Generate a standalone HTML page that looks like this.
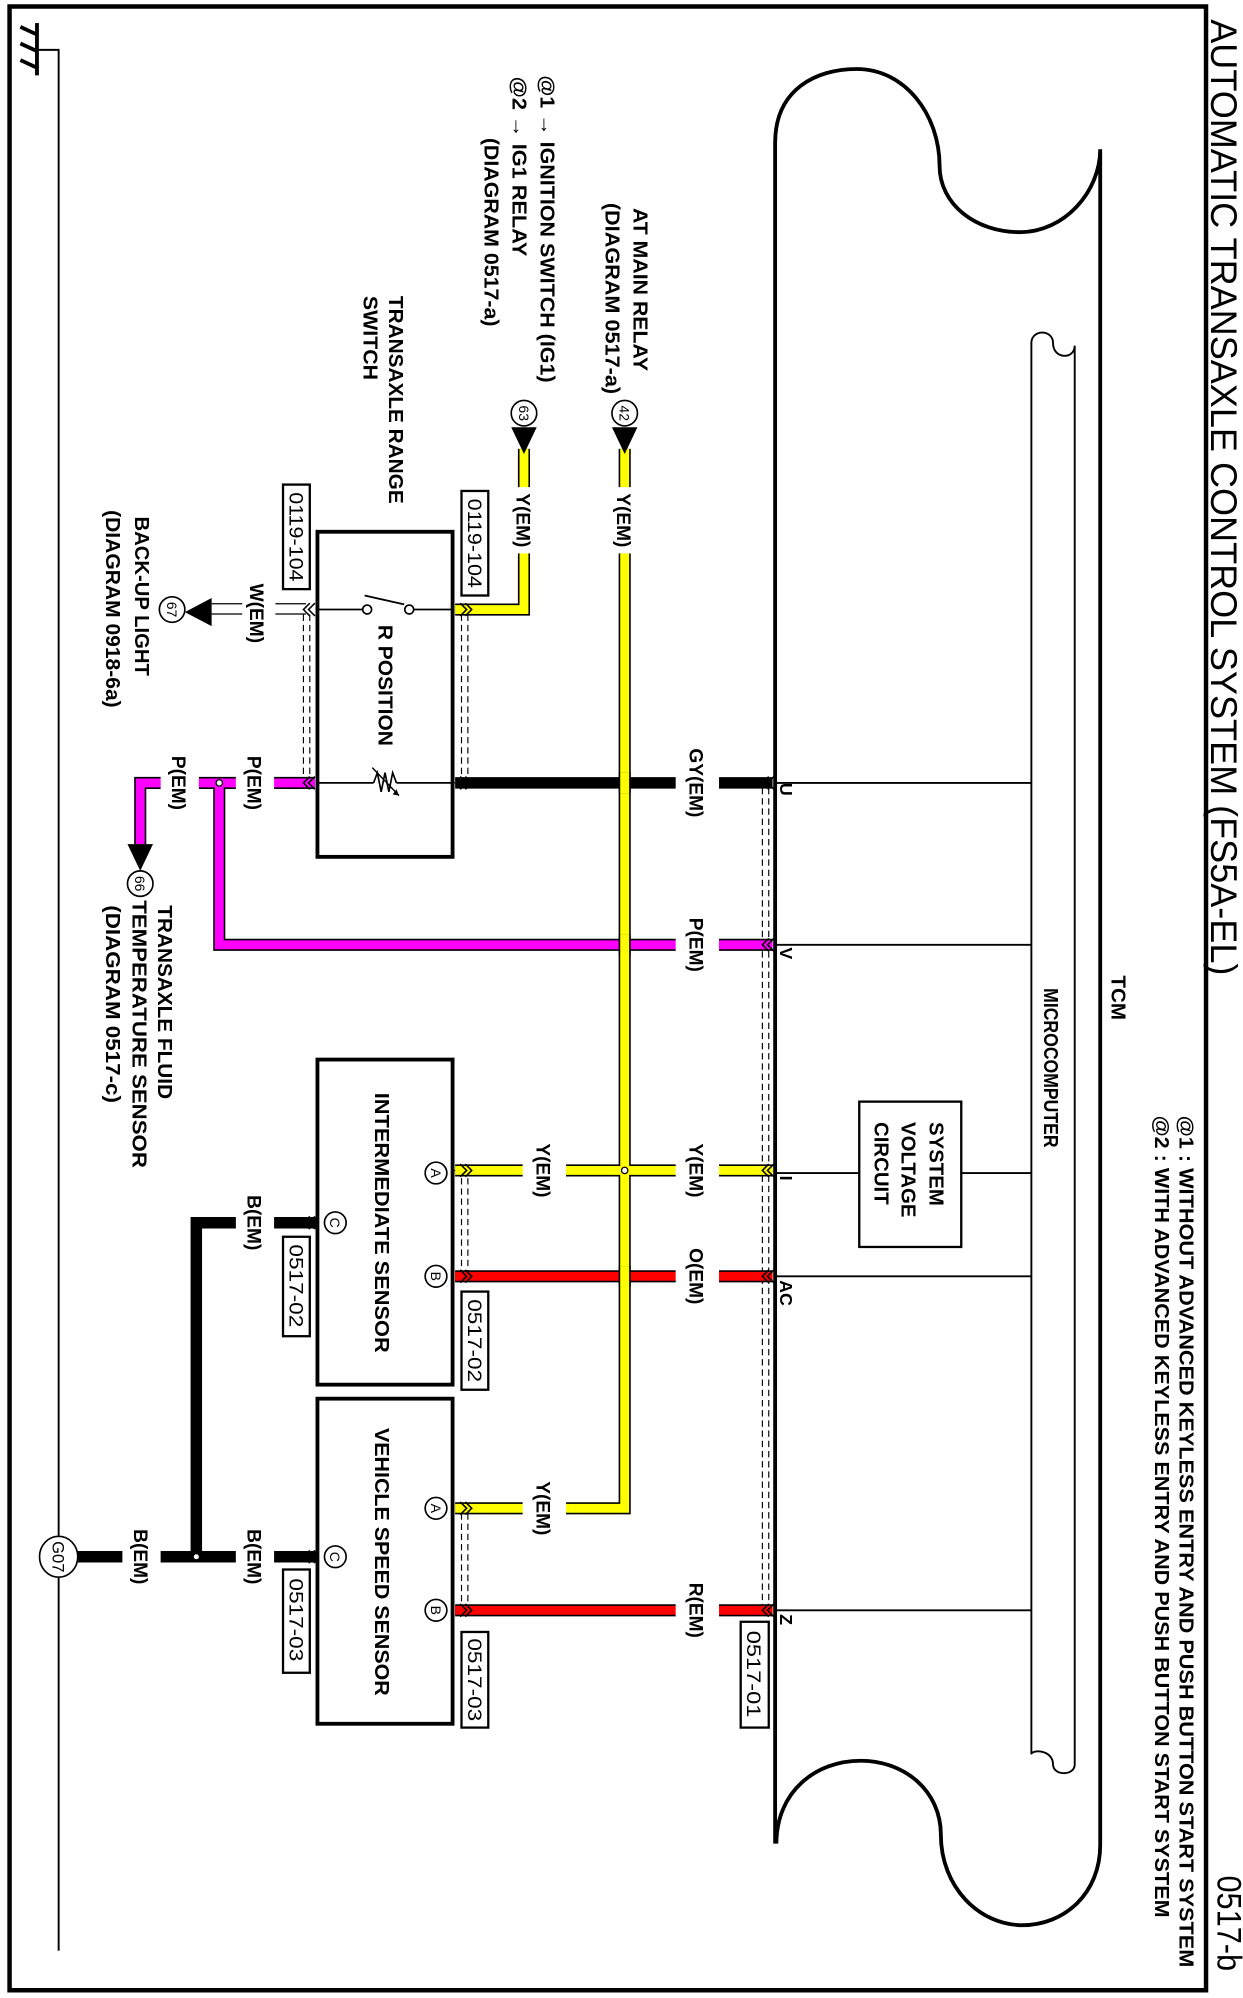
<!DOCTYPE html>
<html><head><meta charset="utf-8"><style>
html,body{margin:0;padding:0;background:#fff}
svg{display:block}
text{font-family:"Liberation Sans",sans-serif;fill:#000}
.b{font-weight:bold}
</style></head><body>
<svg width="1243" height="1998" viewBox="0 0 975 1567" xmlns="http://www.w3.org/2000/svg">
<rect x="0" y="0" width="975" height="1567" fill="#fff"/>
<!-- border -->
<path d="M946 5 H7.5 V1561 H946 Z" fill="none" stroke="#000" stroke-width="3.5"/>

<!-- title & notes -->
<text transform="translate(950,15) rotate(90)" font-size="29" textLength="750" lengthAdjust="spacingAndGlyphs">AUTOMATIC TRANSAXLE CONTROL SYSTEM (FS5A-EL)</text>
<text transform="translate(955,1471) rotate(90)" font-size="27" textLength="75" lengthAdjust="spacingAndGlyphs">0517-b</text>
<text class="b" transform="translate(925,875) rotate(90)" font-size="16" textLength="668" lengthAdjust="spacingAndGlyphs">@1 : WITHOUT ADVANCED KEYLESS ENTRY AND PUSH BUTTON START SYSTEM</text>
<text class="b" transform="translate(906,875) rotate(90)" font-size="16" textLength="629" lengthAdjust="spacingAndGlyphs">@2 : WITH ADVANCED KEYLESS ENTRY AND PUSH BUTTON START SYSTEM</text>
<text class="b" transform="translate(872,765) rotate(90)" font-size="16" textLength="35" lengthAdjust="spacingAndGlyphs">TCM</text>
<text class="b" transform="translate(819,775) rotate(90)" font-size="16" textLength="125" lengthAdjust="spacingAndGlyphs">MICROCOMPUTER</text>

<!-- ground -->
<line x1="29" y1="18" x2="29" y2="59" stroke="#000" stroke-width="3"/>
<line x1="16" y1="21" x2="29" y2="27" stroke="#000" stroke-width="3"/>
<line x1="16" y1="34" x2="29" y2="40" stroke="#000" stroke-width="3"/>
<line x1="16" y1="47" x2="29" y2="53" stroke="#000" stroke-width="3"/>
<path d="M29 39 H46 V1530" fill="none" stroke="#000" stroke-width="1.5"/>

<!-- TCM outline -->
<path d="M608 1446 V112 C608 70 640 54 672 54 C710 54 737 90 737 130 C737 160 765 182 800 182 C835 182 863 150 863 117 V1447 C863 1485 835 1510 802 1510 C768 1510 738 1480 738 1439 C738 1405 710 1381 675 1381 C640 1381 609 1405 609 1446" fill="none" stroke="#000" stroke-width="3"/>
<!-- microcomputer -->
<path d="M809 1376 V269 C809 258 826 258 826 269 C826 282 843 282 843 271 V1384 C843 1393 826 1393 826 1384 C826 1372 809 1372 809 1376" fill="none" stroke="#000" stroke-width="1.5"/>

<!-- TCM internal pin lines -->
<g stroke="#000" stroke-width="1.5">
<line x1="608" y1="614" x2="809" y2="614"/>
<line x1="608" y1="741" x2="809" y2="741"/>
<line x1="608" y1="920" x2="674" y2="920"/>
<line x1="754" y1="920" x2="809" y2="920"/>
<line x1="608" y1="1001" x2="809" y2="1001"/>
<line x1="608" y1="1263" x2="809" y2="1263"/>
</g>
<rect x="674" y="864" width="80" height="114" fill="none" stroke="#000" stroke-width="1.8"/>
<text class="b" transform="translate(729,880) rotate(90)" font-size="16">SYSTEM</text>
<text class="b" transform="translate(707,880) rotate(90)" font-size="16">VOLTAGE</text>
<text class="b" transform="translate(686,880) rotate(90)" font-size="16">CIRCUIT</text>
<g class="b" font-size="14">
<text class="b" transform="translate(612,614) rotate(90)" font-size="14">U</text>
<text class="b" transform="translate(612,743) rotate(90)" font-size="14">V</text>
<text class="b" transform="translate(612,922) rotate(90)" font-size="14">I</text>
<text class="b" transform="translate(612,1004) rotate(90)" font-size="14">AC</text>
<text class="b" transform="translate(612,1266) rotate(90)" font-size="14">Z</text>
</g>

<!-- dashed shield lines -->
<g stroke="#000" stroke-width="0.9" stroke-dasharray="5,3" fill="none">
<line x1="598" y1="618" x2="598" y2="1260"/><line x1="603" y1="618" x2="603" y2="1260"/>
<line x1="238" y1="482" x2="238" y2="610"/><line x1="243" y1="482" x2="243" y2="610"/>
<line x1="362" y1="482" x2="362" y2="610"/><line x1="367" y1="482" x2="367" y2="610"/>
<line x1="362" y1="924" x2="362" y2="997"/><line x1="367" y1="924" x2="367" y2="997"/>
<line x1="362" y1="1187" x2="362" y2="1259"/><line x1="367" y1="1187" x2="367" y2="1259"/>
</g>

<!-- wires: outline then color -->
<g fill="none" stroke="#000" stroke-width="9.5" stroke-linejoin="miter">
<path d="M490 352 V1183 H357"/>
<path d="M411 352 V478 H357"/>
<path d="M357 918 H606"/>
<path d="M357 1001 H606"/>
<path d="M357 1263 H606"/>
<path d="M247 614 H110 V662"/>
<path d="M172 614 V741 H606"/>
</g>
<g fill="none" stroke-width="7" stroke-linejoin="miter">
<path d="M490 352 V1183 H357" stroke="#ffff00"/>
<path d="M411 352 V478 H357" stroke="#ffff00"/>
<path d="M357 918 H606" stroke="#ffff00"/>
<path d="M357 1001 H606" stroke="#ff0000"/>
<path d="M357 1263 H606" stroke="#ff0000"/>
<path d="M247 614 H110 V662" stroke="#ff00ff"/>
<path d="M172 614 V741 H606" stroke="#ff00ff"/>
</g>
<!-- yellow vertical over crossings -->
<line x1="490" y1="606" x2="490" y2="622" stroke="#000" stroke-width="9.5"/>
<line x1="490" y1="733" x2="490" y2="749" stroke="#000" stroke-width="9.5"/>
<line x1="490" y1="606" x2="490" y2="622" stroke="#ffff00" stroke-width="7"/>
<line x1="490" y1="733" x2="490" y2="749" stroke="#ffff00" stroke-width="7"/>
<line x1="490" y1="993" x2="490" y2="1009" stroke="#000" stroke-width="9.5"/>
<line x1="490" y1="993" x2="490" y2="1009" stroke="#ffff00" stroke-width="7"/>
<!-- black wires -->
<path d="M357 614 H486 M494 614 H606" stroke="#000" stroke-width="9" fill="none"/>
<path d="M249 959 H154 V1221" stroke="#000" stroke-width="9" fill="none"/>
<path d="M249 1221 H58" stroke="#000" stroke-width="9" fill="none"/>
<!-- W wire -->
<line x1="166" y1="473.5" x2="240" y2="473.5" stroke="#000" stroke-width="1"/>
<line x1="166" y1="481.5" x2="240" y2="481.5" stroke="#000" stroke-width="1"/>

<!-- junction dots -->
<circle cx="490" cy="918" r="2.5" fill="#fff" stroke="#000" stroke-width="1"/>
<circle cx="172" cy="614" r="2.5" fill="#fff" stroke="#000" stroke-width="1"/>
<circle cx="154" cy="1221" r="2.5" fill="#fff" stroke="#000" stroke-width="1"/>

<!-- label gaps (white) -->
<g fill="#fff">
<rect x="480" y="382" width="20" height="52"/>
<rect x="401" y="382" width="20" height="52"/>
<rect x="530" y="582" width="34" height="64"/>
<rect x="530" y="714" width="34" height="54"/>
<rect x="530" y="891" width="34" height="54"/>
<rect x="410" y="891" width="34" height="54"/>
<rect x="530" y="974" width="34" height="54"/>
<rect x="530" y="1236" width="34" height="54"/>
<rect x="410" y="1156" width="34" height="54"/>
<rect x="185" y="587" width="30" height="54"/>
<rect x="126" y="587" width="30" height="54"/>
<rect x="185" y="932" width="30" height="54"/>
<rect x="185" y="1194" width="30" height="54"/>
<rect x="96" y="1194" width="30" height="54"/>
<rect x="190" y="455" width="26" height="52"/>
</g>
<g class="b" font-size="15" text-anchor="middle">
<text class="b" transform="translate(484,408) rotate(90)" text-anchor="middle" font-size="15">Y(EM)</text>
<text class="b" transform="translate(405,408) rotate(90)" text-anchor="middle" font-size="15">Y(EM)</text>
<text class="b" transform="translate(541,614) rotate(90)" text-anchor="middle" font-size="15">GY(EM)</text>
<text class="b" transform="translate(541,741) rotate(90)" text-anchor="middle" font-size="15">P(EM)</text>
<text class="b" transform="translate(541,918) rotate(90)" text-anchor="middle" font-size="15">Y(EM)</text>
<text class="b" transform="translate(421,918) rotate(90)" text-anchor="middle" font-size="15">Y(EM)</text>
<text class="b" transform="translate(541,1001) rotate(90)" text-anchor="middle" font-size="15">O(EM)</text>
<text class="b" transform="translate(541,1263) rotate(90)" text-anchor="middle" font-size="15">R(EM)</text>
<text class="b" transform="translate(421,1183) rotate(90)" text-anchor="middle" font-size="15">Y(EM)</text>
<text class="b" transform="translate(194,614) rotate(90)" text-anchor="middle" font-size="15">P(EM)</text>
<text class="b" transform="translate(135,614) rotate(90)" text-anchor="middle" font-size="15">P(EM)</text>
<text class="b" transform="translate(194,959) rotate(90)" text-anchor="middle" font-size="15">B(EM)</text>
<text class="b" transform="translate(194,1221) rotate(90)" text-anchor="middle" font-size="15">B(EM)</text>
<text class="b" transform="translate(105,1221) rotate(90)" text-anchor="middle" font-size="15">B(EM)</text>
<text class="b" transform="translate(196,481) rotate(90)" text-anchor="middle" font-size="15">W(EM)</text>
</g>

<!-- connector chevrons -->
<g fill="none" stroke="#000" stroke-width="1.2">
<path d="M603 609 L598 614 L603 619 M607 609 L602 614 L607 619"/>
<path d="M603 736 L598 741 L603 746 M607 736 L602 741 L607 746"/>
<path d="M603 913 L598 918 L603 923 M607 913 L602 918 L607 923"/>
<path d="M603 996 L598 1001 L603 1006 M607 996 L602 1001 L607 1006"/>
<path d="M603 1258 L598 1263 L603 1268 M607 1258 L602 1263 L607 1268"/>
<path d="M361 473 L366 478 L361 483 M365 473 L370 478 L365 483"/>
<path d="M361 609 L366 614 L361 619 M365 609 L370 614 L365 619"/>
<path d="M361 913 L366 918 L361 923 M365 913 L370 918 L365 923"/>
<path d="M361 996 L366 1001 L361 1006 M365 996 L370 1001 L365 1006"/>
<path d="M361 1178 L366 1183 L361 1188 M365 1178 L370 1183 L365 1188"/>
<path d="M361 1258 L366 1263 L361 1268 M365 1258 L370 1263 L365 1268"/>
<path d="M243 473 L238 478 L243 483 M247 473 L242 478 L247 483"/>
<path d="M243 609 L238 614 L243 619 M247 609 L242 614 L247 619"/>
<path d="M243 954 L238 959 L243 964 M247 954 L242 959 L247 964"/>
<path d="M243 1216 L238 1221 L243 1226 M247 1216 L242 1221 L247 1226"/>
</g>

<!-- range switch -->
<rect x="249" y="417" width="106" height="255" fill="#fff" stroke="#000" stroke-width="3"/>
<path d="M249 478 H285 M324 478 H355 M249 614 H293 M311 614 H355" stroke="#000" stroke-width="1.4"/>
<circle cx="288" cy="478" r="3.5" fill="#fff" stroke="#000" stroke-width="1.3"/>
<circle cx="321" cy="478" r="3.5" fill="#fff" stroke="#000" stroke-width="1.3"/>
<line x1="286" y1="467" x2="317" y2="474" stroke="#000" stroke-width="1.4"/>
<path d="M293 614 L296 606 L299 621 L302 606 L305 621 L308 606 L311 614" fill="none" stroke="#000" stroke-width="1.3"/>
<path d="M292 602 L313 624" stroke="#000" stroke-width="1.1"/>
<path d="M313 624 L308 623 L311 619 Z" fill="#000"/>
<text class="b" transform="translate(297,490) rotate(90)" font-size="16" textLength="95" lengthAdjust="spacingAndGlyphs">R POSITION</text>

<!-- sensors -->
<rect x="249" y="831" width="106" height="255" fill="none" stroke="#000" stroke-width="3"/>
<rect x="249" y="1097" width="106" height="255" fill="none" stroke="#000" stroke-width="3"/>
<path d="M355 614 H357 M355 918 H357" stroke="#000"/>
<text class="b" transform="translate(294,857) rotate(90)" font-size="16" textLength="204" lengthAdjust="spacingAndGlyphs">INTERMEDIATE SENSOR</text>
<text class="b" transform="translate(294,1120) rotate(90)" font-size="16" textLength="210" lengthAdjust="spacingAndGlyphs">VEHICLE SPEED SENSOR</text>
<g fill="#fff" stroke="#000" stroke-width="1.3">
<circle cx="342" cy="920" r="8.5"/><circle cx="342" cy="1001" r="8.5"/><circle cx="263" cy="959" r="8.5"/>
<circle cx="342" cy="1183" r="8.5"/><circle cx="342" cy="1263" r="8.5"/><circle cx="263" cy="1221" r="8.5"/>
</g>
<g font-size="11" text-anchor="middle">
<text transform="translate(338,920) rotate(90)" text-anchor="middle" font-size="11">A</text>
<text transform="translate(338,1001) rotate(90)" text-anchor="middle" font-size="11">B</text>
<text transform="translate(259,959) rotate(90)" text-anchor="middle" font-size="11">C</text>
<text transform="translate(338,1183) rotate(90)" text-anchor="middle" font-size="11">A</text>
<text transform="translate(338,1263) rotate(90)" text-anchor="middle" font-size="11">B</text>
<text transform="translate(259,1221) rotate(90)" text-anchor="middle" font-size="11">C</text>
</g>

<!-- connector label boxes -->
<g fill="#fff" stroke="#000" stroke-width="1.8">
<rect x="362" y="385" width="21" height="82"/>
<rect x="222" y="380" width="21" height="82"/>
<rect x="362" y="1013" width="21" height="77"/>
<rect x="222" y="970" width="21" height="78"/>
<rect x="362" y="1280" width="21" height="75"/>
<rect x="222" y="1231" width="21" height="81"/>
<rect x="581" y="1272" width="22" height="83"/>
</g>
<g font-size="15">
<text transform="translate(367,391) rotate(90)" font-size="15" textLength="70" lengthAdjust="spacingAndGlyphs">0119-104</text>
<text transform="translate(227,386) rotate(90)" font-size="15" textLength="70" lengthAdjust="spacingAndGlyphs">0119-104</text>
<text transform="translate(367,1019) rotate(90)" font-size="15" textLength="65" lengthAdjust="spacingAndGlyphs">0517-02</text>
<text transform="translate(227,976) rotate(90)" font-size="15" textLength="65" lengthAdjust="spacingAndGlyphs">0517-02</text>
<text transform="translate(367,1285) rotate(90)" font-size="15" textLength="65" lengthAdjust="spacingAndGlyphs">0517-03</text>
<text transform="translate(227,1238) rotate(90)" font-size="15" textLength="65" lengthAdjust="spacingAndGlyphs">0517-03</text>
<text transform="translate(586,1279) rotate(90)" font-size="15" textLength="68" lengthAdjust="spacingAndGlyphs">0517-01</text>
</g>

<!-- off-page arrows -->
<polygon points="480,335 500,335 490,356" fill="#000"/>
<polygon points="401,335 421,335 411,356" fill="#000"/>
<polygon points="166,469 166,491 145,480" fill="#000"/>
<polygon points="100,662 120,662 110,683" fill="#000"/>
<g fill="#fff" stroke="#000" stroke-width="1.3">
<circle cx="490" cy="324" r="10"/><circle cx="411" cy="324" r="10"/>
<circle cx="135" cy="478" r="10"/><circle cx="110" cy="693" r="10"/>
<ellipse cx="46" cy="1221" rx="15" ry="16"/>
</g>
<g font-size="11">
<text transform="translate(486,324) rotate(90)" text-anchor="middle" font-size="11">42</text>
<text transform="translate(407,324) rotate(90)" text-anchor="middle" font-size="11">63</text>
<text transform="translate(131,478) rotate(90)" text-anchor="middle" font-size="11">67</text>
<text transform="translate(106,693) rotate(90)" text-anchor="middle" font-size="11">66</text>
<text transform="translate(41,1221) rotate(90)" text-anchor="middle" font-size="13">G07</text>
</g>

<!-- descriptive labels -->
<g class="b">
<text class="b" transform="translate(497,163) rotate(90)" font-size="16" textLength="128" lengthAdjust="spacingAndGlyphs">AT MAIN RELAY</text>
<text class="b" transform="translate(475,159) rotate(90)" font-size="16" textLength="150" lengthAdjust="spacingAndGlyphs">(DIAGRAM 0517-a)</text>
<text class="b" transform="translate(424,59) rotate(90)" font-size="16" textLength="241" lengthAdjust="spacingAndGlyphs">@1 → IGNITION SWITCH (IG1)</text>
<text class="b" transform="translate(402,60) rotate(90)" font-size="16" textLength="141" lengthAdjust="spacingAndGlyphs">@2 → IG1 RELAY</text>
<text class="b" transform="translate(380,108) rotate(90)" font-size="16" textLength="148" lengthAdjust="spacingAndGlyphs">(DIAGRAM 0517-a)</text>
<text class="b" transform="translate(305,232) rotate(90)" font-size="16" textLength="163" lengthAdjust="spacingAndGlyphs">TRANSAXLE RANGE</text>
<text class="b" transform="translate(285,232) rotate(90)" font-size="16" textLength="66" lengthAdjust="spacingAndGlyphs">SWITCH</text>
<text class="b" transform="translate(106,405) rotate(90)" font-size="16" textLength="125" lengthAdjust="spacingAndGlyphs">BACK-UP LIGHT</text>
<text class="b" transform="translate(83,400) rotate(90)" font-size="16" textLength="155" lengthAdjust="spacingAndGlyphs">(DIAGRAM 0918-6a)</text>
<text class="b" transform="translate(124,710) rotate(90)" font-size="16" textLength="152" lengthAdjust="spacingAndGlyphs">TRANSAXLE FLUID</text>
<text class="b" transform="translate(104,706) rotate(90)" font-size="16" textLength="210" lengthAdjust="spacingAndGlyphs">TEMPERATURE SENSOR</text>
<text class="b" transform="translate(83,710) rotate(90)" font-size="16" textLength="155" lengthAdjust="spacingAndGlyphs">(DIAGRAM 0517-c)</text>
</g>
</svg>
</body></html>
